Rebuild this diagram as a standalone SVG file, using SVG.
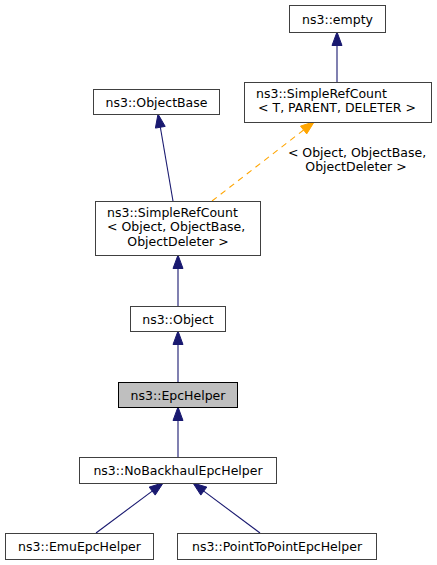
<svg xmlns="http://www.w3.org/2000/svg" width="437" height="565" viewBox="0 0 437 565">
<style>
.box{fill:#ffffff;stroke:#404040;stroke-width:1}
.cur{fill:#bfbfbf;stroke:#000000;stroke-width:1}
text{font-family:"DejaVu Sans",sans-serif;font-size:12.5px;fill:#000000}
.m{text-anchor:middle}
.e{stroke:#191970;stroke-width:1.1;fill:none}
.h{fill:#191970;stroke:#191970;stroke-width:1}
.oe{stroke:#ffa500;stroke-width:1.1;fill:none;stroke-dasharray:6,5}
.oh{fill:#ffa500;stroke:#ffa500;stroke-width:1}
</style>
<rect width="437" height="565" fill="#ffffff"/>
<g id="connectors">
<line class="e" x1="337" y1="82" x2="337" y2="45"/>
<polygon class="h" points="337,32 342,45.5 332,45.5"/>
<line class="e" x1="173" y1="201" x2="160.3" y2="127"/>
<polygon class="h" points="158,114 165.2,126.4 155.4,128.1"/>
<line class="oe" x1="212" y1="201" x2="303.6" y2="130"/>
<polygon class="oh" points="314.3,121.7 306.7,133.9 300.5,126.1"/>
<text class="m" x="357" y="157">&lt; Object, ObjectBase,</text>
<text class="m" x="356" y="171">ObjectDeleter &gt;</text>
<line class="e" x1="178" y1="306" x2="178" y2="268.5"/>
<polygon class="h" points="178,255 183,268.5 173,268.5"/>
<line class="e" x1="178" y1="382" x2="178" y2="344.5"/>
<polygon class="h" points="178,331 183,344.5 173,344.5"/>
<line class="e" x1="178" y1="457" x2="178" y2="420.5"/>
<polygon class="h" points="178,407 183,420.5 173,420.5"/>
<line class="e" x1="96" y1="533" x2="152.2" y2="491.1"/>
<polygon class="h" points="163.3,482.7 155.2,495.1 149.2,487.1"/>
<line class="e" x1="260" y1="533" x2="203.8" y2="491.1"/>
<polygon class="h" points="193,483 206.8,487.1 200.8,495.1"/>
</g>
<g id="empty">
<rect class="box" x="289.5" y="5.5" width="96" height="27"/>
<text class="m" x="337.5" y="23.5">ns3::empty</text>
</g>
<g id="srcT">
<rect class="box" x="244.5" y="82.5" width="187" height="40"/>
<text x="256" y="98">ns3::SimpleRefCount</text>
<text class="m" x="337" y="112">&lt; T, PARENT, DELETER &gt;</text>
</g>
<g id="objectbase">
<rect class="box" x="93.5" y="89.5" width="126" height="25"/>
<text class="m" x="156.5" y="106.5">ns3::ObjectBase</text>
</g>
<g id="srcObject">
<rect class="box" x="95.5" y="201.5" width="165" height="54"/>
<text x="107" y="216.5">ns3::SimpleRefCount</text>
<text x="107" y="231">&lt; Object, ObjectBase,</text>
<text class="m" x="178" y="245.5">ObjectDeleter &gt;</text>
</g>
<g id="object">
<rect class="box" x="130.5" y="306.5" width="95" height="25"/>
<text class="m" x="178" y="323.5">ns3::Object</text>
</g>
<g id="epchelper">
<rect class="cur" x="118.5" y="382.5" width="119" height="25"/>
<text class="m" x="178" y="399.5">ns3::EpcHelper</text>
</g>
<g id="nobackhaul">
<rect class="box" x="79.5" y="457.5" width="197" height="26"/>
<text class="m" x="178" y="475">ns3::NoBackhaulEpcHelper</text>
</g>
<g id="emu">
<rect class="box" x="5.5" y="533.5" width="148" height="26"/>
<text class="m" x="79.5" y="551">ns3::EmuEpcHelper</text>
</g>
<g id="p2p">
<rect class="box" x="177.5" y="533.5" width="199" height="26"/>
<text class="m" x="277" y="551">ns3::PointToPointEpcHelper</text>
</g>
</svg>
